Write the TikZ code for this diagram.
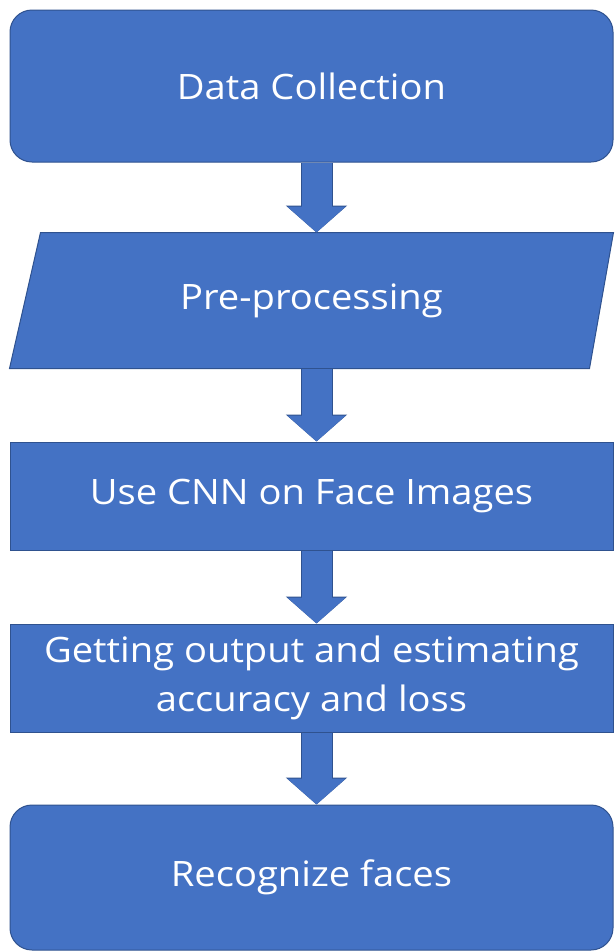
\documentclass[tikz,border=0pt]{standalone}
\usepackage{fontspec}
\setmainfont{Open Sans}[FakeStretch=1.09]
\usetikzlibrary{arrows.meta, backgrounds}
\definecolor{boxblue}{HTML}{4472C4}
\definecolor{boxedge}{HTML}{2F528F}
\tikzset{
  stage/.style={rectangle, draw=boxedge, line width=1pt, fill=boxblue, text=white,
    minimum width=603pt, inner sep=0pt, align=center,
    font=\fontsize{35}{49}\selectfont},
  flow/.style={line width=30pt, draw=boxblue,
    -{Triangle[length=26pt, width=57pt]},
    preaction={draw=boxedge, line width=32pt, -{Triangle[length=27pt, width=60pt]}}}
}
\begin{document}
\begin{tikzpicture}[x=1pt, y=-1pt]
  \useasboundingbox (0,0) rectangle (614,951);
  % Steps, top to bottom
  \node[stage, rounded corners=22pt, minimum height=152pt] (collect) at (311.5,86) {Data Collection};
  \node[stage, draw=none, fill=none, minimum height=135pt] (prep) at (311.5,300.5) {Pre-processing};
  \node[stage, minimum height=108pt] (cnn) at (311.5,496) {Use CNN on Face Images};
  \node[stage, minimum height=108pt] (output) at (311.5,678) {Getting output and estimating\\accuracy and loss};
  \node[stage, rounded corners=22pt, minimum height=145pt] (recognize) at (311.5,877.5) {Recognize faces};

  % Parallelogram behind the pre-processing text
  \begin{scope}[on background layer]
    \draw[draw=boxedge, line width=1pt, fill=boxblue]
      ([xshift=31pt]prep.north west) -- (prep.north east)
      -- ([xshift=-24pt]prep.south east) -- (prep.south west) -- cycle;
  \end{scope}

  % Block arrows
  \draw[flow] ([xshift=5pt]collect.south) -- ([xshift=5pt]prep.north);
  \draw[flow] ([xshift=5pt]prep.south) -- ([xshift=5pt]cnn.north);
  \draw[flow] ([xshift=5pt]cnn.south) -- ([xshift=5pt]output.north);
  \draw[flow] ([xshift=5pt]output.south) -- ([xshift=5pt]recognize.north);
\end{tikzpicture}
\end{document}
